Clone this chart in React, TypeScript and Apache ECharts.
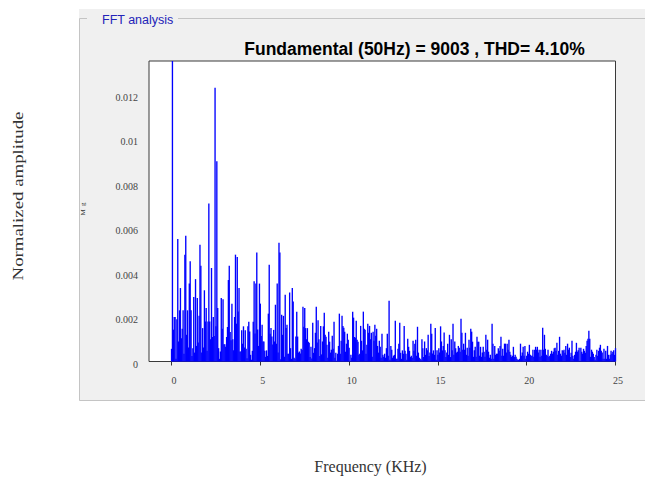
import React, { useEffect, useRef } from "react";
import * as echarts from "echarts";

// Spectrum resolution: one bin every 50 Hz, expressed in kHz.
const binWidthKHz = 0.05;

// Magnitude of each 50 Hz bin, in units of 1e-4 of the fundamental.
// Bin 0 is DC, bin 1 is the 50 Hz fundamental (1.0, runs off the top of the plot).
const magnitudeE4 = [
  5.7, 10000, 14.3, 20, 20, 1.2, 19, 55, 9,
  23, 33, 10.5, 14.7, 23, 3.5, 48, 56.5, 12,
  23, 6.3, 35, 45, 23, 2.5, 6, 29, 4,
  37, 7, 28.5, 8.5, 20.5, 52.5, 43, 4, 15,
  6.3, 32, 18, 24, 4.8, 18, 71, 18, 10,
  42, 11, 20, 11.4, 123, 15.8, 90, 24, 6,
  1.2, 4.5, 28.5, 14.7, 28, 7.8, 7.8, 6.6, 11,
  15.5, 36.6, 43, 13.2, 9.6, 26, 10, 5, 20,
  48, 17, 47, 22.5, 33, 4.5, 4.5, 14, 8,
  15.8, 6.3, 14, 5.7, 1.5, 15.8, 17.9, 13.5, 3,
  0.8, 4.8, 17.9, 36, 12.6, 35, 49, 14.4, 7,
  35, 26, 11.5, 16.5, 9, 9, 4.8, 2.1, 5,
  2.5, 21.5, 43.5, 12.5, 15, 11.2, 7.6, 14.2, 9,
  25.5, 8, 35, 4, 53.4, 49, 1, 21, 12,
  20.5, 2.1, 30, 15, 16.5, 3.5, 3.5, 31, 6,
  1.2, 33, 27, 1.7, 1.2, 11.2, 22.4, 11.2, 4,
  4.5, 3.6, 5.7, 5.2, 24.6, 15.6, 24, 15, 10,
  15, 8.9, 8.4, 2, 6.6, 1.4, 17.4, 3.9, 6,
  12.9, 24.6, 8.5, 18.5, 10, 2.5, 16, 3.2, 9,
  15.8, 21.9, 12, 11.1, 7.5, 1.7, 13.4, 8.9, 4,
  5.3, 11.6, 5.7, 17.9, 1.7, 3.9, 0.3, 3.5, 7,
  21.5, 3.5, 9.3, 20.6, 16, 15.2, 13.4, 4.4, 8,
  12.5, 9.8, 6.2, 0.3, 3, 1.7, 22.4, 19.7, 11,
  10.7, 18.3, 9.8, 8.9, 3, 3.5, 16, 9.3, 5,
  22.4, 14.7, 14.3, 3.5, 7.5, 17, 12.9, 16, 10,
  12.9, 2.1, 13.4, 9.3, 16.5, 11.6, 14.7, 7, 4,
  9.3, 6.6, 1.7, 12.5, 3, 2.1, 3.5, 1.7, 6,
  12.5, 2.6, 27.3, 0.8, 7, 5.3, 1.7, 2.6, 3,
  18.3, 1.2, 1.2, 5.7, 8, 17.4, 3.9, 1.2, 5,
  3.5, 16, 4.8, 3.5, 0.8, 10.2, 6.6, 4.8, 2,
  2.6, 1.7, 9.3, 4.8, 8, 9.8, 2.6, 15.6, 4,
  1.7, 1.2, 0.8, 10, 6, 2, 9, 3, 6,
  5, 12, 2.5, 4, 17, 12.5, 3.6, 5, 3,
  15, 0.8, 5, 3, 6, 4, 15.8, 9, 5,
  7, 13, 5, 2, 4, 8, 3, 12, 2,
  10, 5, 17, 3, 9, 6, 4, 4.4, 7,
  6.2, 4.4, 19.2, 12.9, 5.3, 8, 5.3, 12.9, 3,
  6.2, 2.6, 9.8, 6.2, 14.7, 13.4, 8.9, 2.1, 5,
  6.6, 2.1, 11.1, 8.9, 8.9, 2.6, 6.6, 2.1, 4,
  6.6, 4.4, 2.1, 12, 5.3, 9.8, 4.4, 1.7, 3,
  1.2, 17, 8, 1.2, 7, 3, 3.5, 3.5, 6,
  4.8, 7, 11.1, 2.6, 5.7, 2.6, 8, 8, 4,
  8, 5.3, 9.8, 4.4, 3, 2.1, 2.6, 6.6, 2,
  3, 2.1, 1.2, 0.8, 0.8, 1.2, 8, 2.6, 4,
  6.6, 2.6, 7, 1.2, 2.6, 4.4, 3.5, 7.5, 3,
  2.6, 2.6, 5.3, 2.1, 5.3, 6.6, 5.3, 6.6, 4,
  5.3, 2.1, 5.3, 2.6, 15.2, 5.3, 12, 5.7, 3,
  2.6, 5.3, 2.1, 2.6, 3.5, 4.8, 3.5, 4.4, 6,
  6.2, 4.8, 8.4, 3, 4.8, 11.1, 3.5, 2.6, 5,
  4.8, 5.3, 3.9, 7, 3, 8, 5.3, 6.2, 2,
  3.9, 9.3, 2.6, 1.2, 3, 4.4, 8.4, 4.4, 5,
  6.2, 0.3, 6.2, 4.4, 3.5, 5.7, 4.8, 3.9, 7,
  9.3, 10.2, 13.8, 10.2, 2.1, 5.3, 4.4, 3.5, 2,
  0.8, 3, 5.3, 2.6, 4.8, 6.2, 7.5, 4.8, 4,
  1.2, 5.7, 1.2, 4.8, 1.2, 7, 3, 1.2, 3,
  4.8, 3.5, 4.4, 5, 3, 6,
];

const xTickValues = [0, 5, 10, 15, 20, 25];
const yTickValues = [0, 0.002, 0.004, 0.006, 0.008, 0.01, 0.012];
const xRange = [-1.27, 25];
const yRange = [0, 0.0135];

const panelTitle = "FFT analysis";
const plotTitle = "Fundamental (50Hz) = 9003 , THD= 4.10%";
const xName = "Frequency (KHz)";
const yName = "Normalized amplitude";
const magLabel = "M  g";

const serif = '"Liberation Serif", "Times New Roman", serif';
const sans = '"Liberation Sans", Arial, sans-serif';

const hiddenLines = {
  splitLine: { show: false },
  axisLine: { show: false },
};

export default function App() {
  const ref = useRef<HTMLDivElement>(null);

  useEffect(() => {
    if (!ref.current) return;
    const chart = echarts.init(ref.current, undefined, { renderer: "svg" });

    const spectrum = magnitudeE4.map((m, i) => [i * binWidthKHz, m / 10000]);

    const tickStyle = { show: true, inside: true, length: 4, lineStyle: { color: "#333", width: 1 } };
    const labelStyle = { fontFamily: serif, fontSize: 10, color: "#444" };

    const centeredText = (text: string, font: string, fill: string) => ({
      text,
      font,
      fill,
      align: "center",
      verticalAlign: "middle",
      textAlign: "center",
      textVerticalAlign: "middle",
    });

    const option: any = {
      animation: false,
      backgroundColor: "#ffffff",
      grid: {
        left: 149,
        top: 61,
        width: 466.5,
        height: 300.5,
        show: true,
        backgroundColor: "#ffffff",
        borderColor: "#3a3a3a",
        borderWidth: 1,
        z: 1,
      },
      xAxis: [
        {
          type: "value",
          position: "bottom",
          min: xRange[0],
          max: xRange[1],
          ...hiddenLines,
          axisTick: { ...tickStyle, customValues: xTickValues },
          axisLabel: {
            ...labelStyle,
            customValues: xTickValues,
            margin: 14,
            padding: [0, 0, 0, 5],
          },
        },
        {
          type: "value",
          position: "top",
          min: xRange[0],
          max: xRange[1],
          ...hiddenLines,
          axisTick: { ...tickStyle, customValues: xTickValues },
          axisLabel: { show: false },
        },
      ],
      yAxis: [
        {
          type: "value",
          position: "left",
          min: yRange[0],
          max: yRange[1],
          ...hiddenLines,
          axisTick: { ...tickStyle, customValues: yTickValues },
          axisLabel: {
            ...labelStyle,
            customValues: yTickValues,
            margin: 11,
            verticalAlign: "top",
            lineHeight: 6,
            formatter: (v: number) => String(+Number(v).toFixed(4)),
          },
        },
        {
          type: "value",
          position: "right",
          min: yRange[0],
          max: yRange[1],
          ...hiddenLines,
          axisTick: { ...tickStyle, customValues: yTickValues },
          axisLabel: { show: false },
        },
      ],
      series: [
        {
          type: "bar",
          xAxisIndex: 0,
          yAxisIndex: 0,
          data: spectrum,
          barWidth: 1.35,
          clip: true,
          silent: true,
          itemStyle: { color: "#0000ff" },
          z: 3,
        },
      ],
      graphic: [
        {
          type: "rect",
          z: -10,
          silent: true,
          shape: { x: 79, y: 9, width: 566, height: 392 },
          style: { fill: "#f0f0f0" },
        },
        {
          type: "polyline",
          z: -9,
          silent: true,
          shape: { points: [[87, 18.5], [79.5, 18.5], [79.5, 400.5], [645, 400.5]] },
          style: { stroke: "#c4c4c4", lineWidth: 1, fill: null },
        },
        {
          type: "line",
          z: -9,
          silent: true,
          shape: { x1: 178, y1: 18.5, x2: 645, y2: 18.5 },
          style: { stroke: "#c4c4c4", lineWidth: 1 },
        },
        {
          type: "text",
          z: 5,
          x: 102,
          y: 20,
          style: {
            text: panelTitle,
            font: `12.5px ${sans}`,
            fill: "#2323b8",
            align: "left",
            verticalAlign: "middle",
            textAlign: "left",
            textVerticalAlign: "middle",
          },
        },
        {
          type: "text",
          z: 5,
          x: 414.5,
          y: 48.5,
          style: centeredText(plotTitle, `bold 17.5px ${sans}`, "#000000"),
        },
        {
          type: "text",
          z: 5,
          x: 18.5,
          y: 196,
          rotation: Math.PI / 2,
          scaleX: 1.3,
          style: centeredText(yName, `14.5px ${serif}`, "#333333"),
        },
        {
          type: "text",
          z: 5,
          x: 370.5,
          y: 466,
          style: centeredText(xName, `16px ${serif}`, "#333333"),
        },
        {
          type: "text",
          z: 5,
          x: 83,
          y: 209,
          rotation: Math.PI / 2,
          style: centeredText(magLabel, `7px ${serif}`, "#333333"),
        },
      ],
    };

    chart.setOption(option);
    return () => chart.dispose();
  }, []);

  return (
    <div
      ref={ref}
      style={{ position: "fixed", left: 0, top: 0, width: 645, height: 477 }}
    />
  );
}
